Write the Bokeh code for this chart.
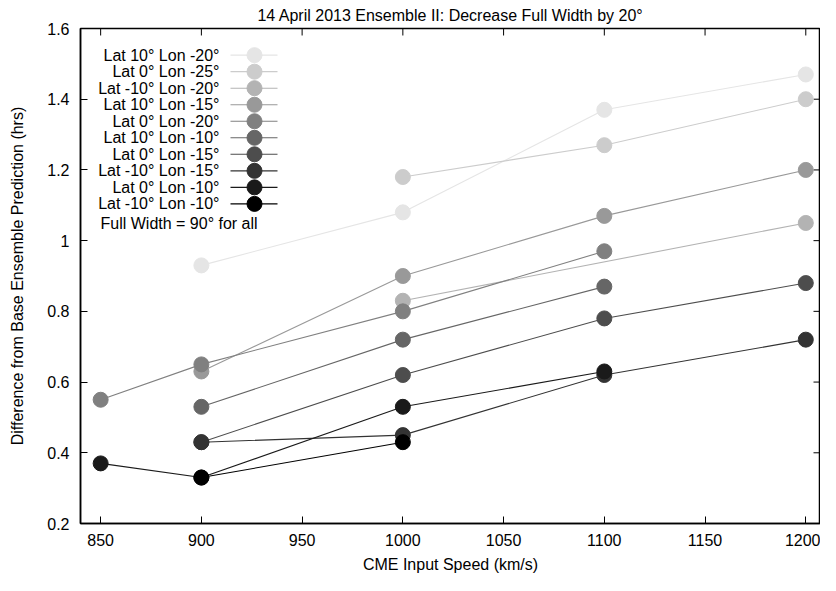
import math
from bokeh.plotting import figure
from bokeh.models import Range1d, FixedTicker, CustomJSTickFormatter, Title
from bokeh.core.properties import value
from bokeh.embed import file_html
from bokeh.resources import INLINE

# ---------------- data ----------------
series_labels = [
    "Lat 10° Lon -20°",
    "Lat 0° Lon -25°",
    "Lat -10° Lon -20°",
    "Lat 10° Lon -15°",
    "Lat 0° Lon -20°",
    "Lat 10° Lon -10°",
    "Lat 0° Lon -15°",
    "Lat -10° Lon -15°",
    "Lat 0° Lon -10°",
    "Lat -10° Lon -10°",
]
series_colors = ["#e5e5e5", "#cccccc", "#b3b3b3", "#999999", "#808080",
                 "#666666", "#4d4d4d", "#333333", "#1a1a1a", "#000000"]

speed_lat10_lon20 = [900, 1000, 1100, 1200]
diff_lat10_lon20 = [0.93, 1.08, 1.37, 1.47]
speed_lat0_lon25 = [1000, 1100, 1200]
diff_lat0_lon25 = [1.18, 1.27, 1.40]
speed_latm10_lon20 = [1000, 1200]
diff_latm10_lon20 = [0.83, 1.05]
speed_lat10_lon15 = [900, 1000, 1100, 1200]
diff_lat10_lon15 = [0.63, 0.90, 1.07, 1.20]
speed_lat0_lon20 = [850, 900, 1000, 1100]
diff_lat0_lon20 = [0.55, 0.65, 0.80, 0.97]
speed_lat10_lon10 = [900, 1000, 1100]
diff_lat10_lon10 = [0.53, 0.72, 0.87]
speed_lat0_lon15 = [900, 1000, 1100, 1200]
diff_lat0_lon15 = [0.43, 0.62, 0.78, 0.88]
speed_latm10_lon15 = [900, 1000, 1100, 1200]
diff_latm10_lon15 = [0.43, 0.45, 0.62, 0.72]
speed_lat0_lon10 = [850, 900, 1000, 1100]
diff_lat0_lon10 = [0.37, 0.33, 0.53, 0.63]
speed_latm10_lon10 = [900, 1000]
diff_latm10_lon10 = [0.33, 0.43]

series_x = [speed_lat10_lon20, speed_lat0_lon25, speed_latm10_lon20, speed_lat10_lon15,
            speed_lat0_lon20, speed_lat10_lon10, speed_lat0_lon15, speed_latm10_lon15,
            speed_lat0_lon10, speed_latm10_lon10]
series_y = [diff_lat10_lon20, diff_lat0_lon25, diff_latm10_lon20, diff_lat10_lon15,
            diff_lat0_lon20, diff_lat10_lon10, diff_lat0_lon15, diff_latm10_lon15,
            diff_lat0_lon10, diff_latm10_lon10]

x_ticks = [850, 900, 950, 1000, 1050, 1100, 1150, 1200]
y_ticks = [0.2, 0.4, 0.6, 0.8, 1.0, 1.2, 1.4, 1.6]
note_text = "Full Width = 90° for all"
title_text = "14 April 2013 Ensemble II: Decrease Full Width by 20°"
x_label = "CME Input Speed (km/s)"
y_label = "Difference from Base Ensemble Prediction (hrs)"

# ---------------- layout ----------------
FONT_NAME = "Liberation Sans"
FONT = value(FONT_NAME)
FS = "16px"
X0, X1 = 840, 1207.3
Y0, Y1 = 0.2, 1.6
# frame in page pixels (for placing the key)
FL, FR, FT, FB = 88, 828, 36, 532
TICK = 7


def px_to_x(px):
    return X0 + (px - FL) / (FR - FL) * (X1 - X0)


def py_to_y(py):
    return Y1 - (py - FT) / (FB - FT) * (Y1 - Y0)


p = figure(width=820, height=575, output_backend="svg", toolbar_location=None,
           x_range=Range1d(X0, X1), y_range=Range1d(Y0, Y1),
           min_border_left=80, min_border_right=0, min_border_top=28, min_border_bottom=51)
p.title = Title(text=title_text, align="center", text_font=FONT_NAME, text_font_size=FS,
                text_font_style="normal", text_color="black", offset=0, standoff=9)
p.grid.visible = False
p.outline_line_color = "black"
p.outline_line_width = 1.5
p.background_fill_color = "white"
p.border_fill_color = "white"

yfmt = CustomJSTickFormatter(code="return (Math.round(tick*10)/10).toString();")

for ax in p.xaxis:
    ax.ticker = FixedTicker(ticks=x_ticks)
    ax.axis_label = x_label
for ax in p.yaxis:
    ax.ticker = FixedTicker(ticks=y_ticks)
    ax.formatter = yfmt
    ax.axis_label = y_label

for ax in list(p.xaxis) + list(p.yaxis):
    ax.major_tick_in = TICK
    ax.major_tick_out = 0
    ax.minor_tick_in = 0
    ax.minor_tick_out = 0
    ax.axis_line_color = "black"
    ax.axis_line_width = 1.5
    ax.major_tick_line_width = 1
    ax.major_label_text_font = FONT_NAME
    ax.major_label_text_font_size = FS
    ax.major_label_text_color = "black"
    ax.axis_label_text_font = FONT_NAME
    ax.axis_label_text_font_size = FS
    ax.axis_label_text_font_style = "normal"
    ax.axis_label_text_color = "black"

p.xaxis.major_label_standoff = 10
p.xaxis.axis_label_standoff = 7
p.yaxis.major_label_standoff = 11
p.yaxis.axis_label_standoff = 18

# mirrored inward ticks on the top and right borders (gnuplot style)
half_tick_y = (TICK / 2) / (FB - FT) * (Y1 - Y0)
half_tick_x = (TICK / 2) / (FR - FL) * (X1 - X0)
p.scatter(x=x_ticks, y=[Y1 - half_tick_y] * len(x_ticks), marker="dash", size=TICK,
          angle=math.pi / 2, line_color="black", line_width=1)
p.scatter(x=[X1 - half_tick_x] * len(y_ticks), y=y_ticks, marker="dash", size=TICK,
          line_color="black", line_width=1)

# data
for xs, ys, c in zip(series_x, series_y, series_colors):
    p.line(xs, ys, line_color=c, line_width=1.1)
    p.scatter(xs, ys, marker="circle", size=15, fill_color=c, line_color=c)

# key (gnuplot style: label right-aligned, sample to the right)
row0, row_step = 62.7, 16.56
for i, (lab, c) in enumerate(zip(series_labels, series_colors)):
    yy = py_to_y(row0 + i * row_step)
    p.text(x=[px_to_x(227)], y=[yy], text=[lab], text_align="right", text_baseline="middle",
           text_font=FONT, text_font_size=FS, text_color="black")
    p.segment(x0=[px_to_x(238)], y0=[yy], x1=[px_to_x(285)], y1=[yy], line_color=c, line_width=1.1)
    p.scatter(x=[px_to_x(262)], y=[yy], marker="circle", size=15, fill_color=c, line_color=c)

p.text(x=[px_to_x(108)], y=[py_to_y(231)], text=[note_text], text_align="left", text_baseline="middle",
       text_font=FONT, text_font_size=FS, text_color="black")

open("out.html", "w").write(file_html(p, INLINE))
